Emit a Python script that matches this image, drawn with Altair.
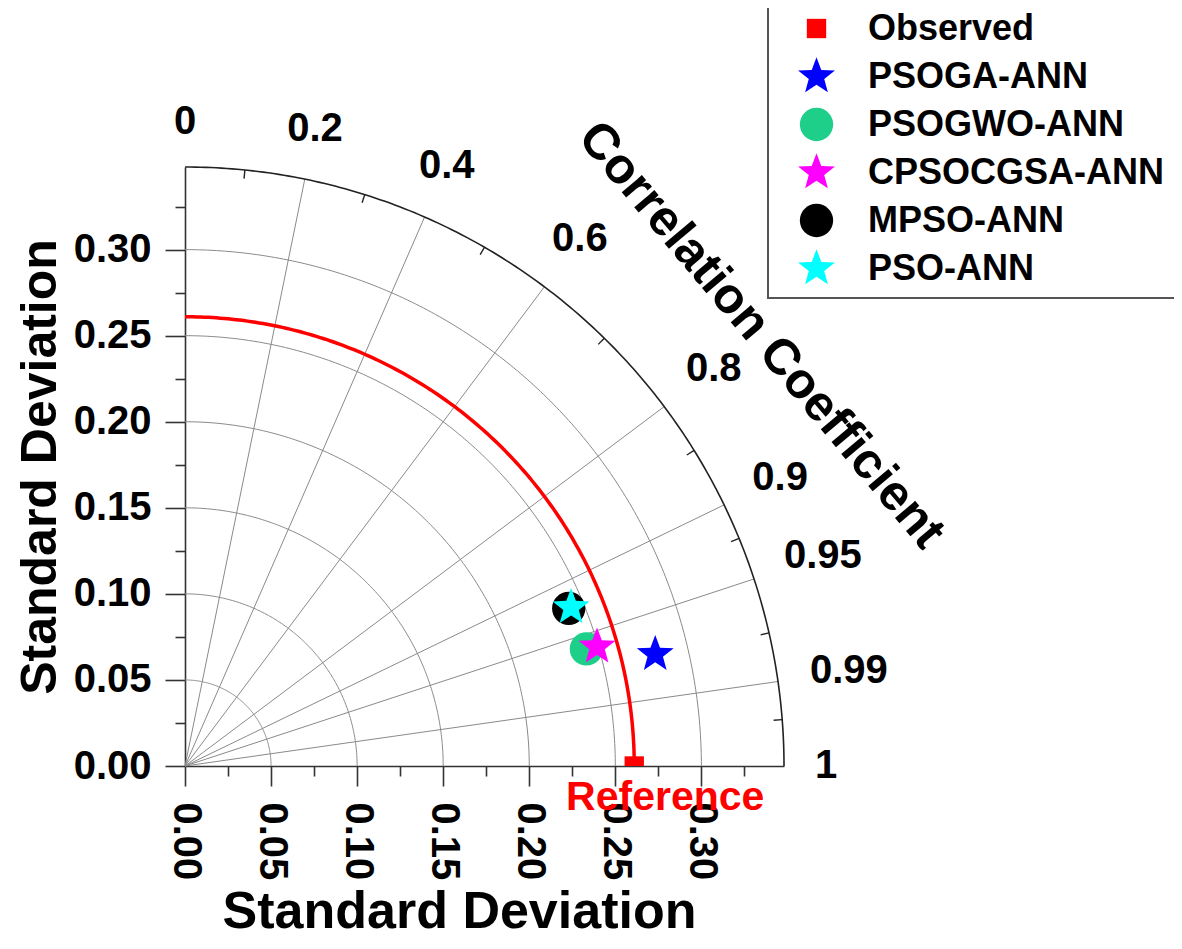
import math
import altair as alt
import numpy as np
import pandas as pd

# ---------------- data ----------------
models = ["Observed", "PSOGA-ANN", "PSOGWO-ANN", "CPSOCGSA-ANN", "MPSO-ANN", "PSO-ANN"]
std_dev = [0.261, 0.2808, 0.2429, 0.2492, 0.2410, 0.2425]
corr = [1.0, 0.9729, 0.960, 0.9606, 0.925, 0.925]
colors = ["#FF0000", "#0000FF", "#1DCF88", "#FF00FF", "#000000", "#00FFFF"]

std_grid = [0.05, 0.10, 0.15, 0.20, 0.25, 0.30]
axis_ticks = [0.0, 0.025, 0.05, 0.075, 0.10, 0.125, 0.15, 0.175, 0.20, 0.225,
              0.25, 0.275, 0.30, 0.325]
corr_grid = [0.2, 0.4, 0.6, 0.8, 0.9, 0.95, 0.99]
corr_minor = [0.1, 0.3, 0.5, 0.7, 0.85, 0.925, 0.975, 0.997]
corr_tick_labels = ["0", "0.2", "0.4", "0.6", "0.8", "0.9", "0.95", "0.99", "1"]
corr_tick_values = [0.0, 0.2, 0.4, 0.6, 0.8, 0.9, 0.95, 0.99, 1.0]

R_MAX = 0.348
REF_STD = std_dev[0]
PLOT_PX = 599
PXU = PLOT_PX / R_MAX          # pixels per unit
LABEL_R0 = 0.366               # inner edge of correlation labels
LABEL_FS = 40
TICK_LEN = 0.005
FONT = "Liberation Sans"


def polar(r, c):
    return r * c, r * math.sqrt(max(0.0, 1.0 - c * c))


# ---------------- shapes ----------------
def star_path(ratio=0.42):
    p = []
    for k in range(10):
        rr = 1.0 if k % 2 == 0 else ratio
        a = math.radians(36 * k)
        p.append(f"{rr * math.sin(a):.4f},{-rr * math.cos(a):.4f}")
    return "M" + " L".join(p) + " Z"


STAR = star_path()
CIRCLE = "M0.86,0 A0.86,0.86 0 1,1 -0.86,0 A0.86,0.86 0 1,1 0.86,0 Z"
SQUARE = "M-0.5,-0.5 L0.5,-0.5 L0.5,0.5 L-0.5,0.5 Z"
shapes = [SQUARE, STAR, CIRCLE, STAR, CIRCLE, STAR]

# ---------------- tables ----------------
pts = pd.DataFrame({"model": models, "std": std_dev, "corr": corr})
pts["x"] = [polar(s, c)[0] for s, c in zip(std_dev, corr)]
pts["y"] = [polar(s, c)[1] for s, c in zip(std_dev, corr)]

theta = np.linspace(0, np.pi / 2, 181)


def arc_df(radii):
    rows = []
    for r in radii:
        for i, t in enumerate(theta):
            rows.append({"r": r, "i": i, "x": r * np.cos(t), "y": r * np.sin(t)})
    return pd.DataFrame(rows)


grid_arcs = arc_df(std_grid)
outer_arc = arc_df([R_MAX])
ref_arc = arc_df([REF_STD])

radial = pd.DataFrame({
    "x": [0.0] * len(corr_grid), "y": [0.0] * len(corr_grid),
    "x2": [polar(R_MAX, c)[0] for c in corr_grid],
    "y2": [polar(R_MAX, c)[1] for c in corr_grid],
})
minor = pd.DataFrame({
    "x": [polar(R_MAX - TICK_LEN, c)[0] for c in corr_minor],
    "y": [polar(R_MAX - TICK_LEN, c)[1] for c in corr_minor],
    "x2": [polar(R_MAX, c)[0] for c in corr_minor],
    "y2": [polar(R_MAX, c)[1] for c in corr_minor],
})


def label_radius(lbl, c):
    # push each label out so that its nearest edge sits on LABEL_R0
    w = LABEL_FS * (0.556 * sum(ch.isdigit() for ch in lbl) + 0.278 * lbl.count("."))
    h = 0.72 * LABEL_FS
    s = math.sqrt(max(0.0, 1 - c * c))
    ext = (w / 2) * abs(c) + (h / 2) * s
    return LABEL_R0 + ext / PXU


clabels = pd.DataFrame({
    "label": corr_tick_labels,
    "x": [polar(label_radius(l, c), c)[0] for l, c in zip(corr_tick_labels, corr_tick_values)],
    "y": [polar(label_radius(l, c), c)[1] for l, c in zip(corr_tick_labels, corr_tick_values)],
})
ctitle = pd.DataFrame({"label": ["Correlation Coefficient"],
                       "x": [polar(0.418, 0.801)[0]], "y": [polar(0.418, 0.801)[1]]})
reflab = pd.DataFrame({"label": ["Reference"], "x": [REF_STD], "y": [0.0]})

# ---------------- encodings ----------------
MAJOR = "round(datum.value*1000) % 50 == 0"
LBL = f"({MAJOR}) ? format(datum.value, '.2f') : ''"
TSIZE = {"condition": {"test": MAJOR, "value": 20}, "value": 10}

scale = alt.Scale(domain=[0, R_MAX], nice=False, zero=True)
x_enc = alt.X("x:Q", scale=scale, axis=alt.Axis(
    values=axis_ticks, title="Standard Deviation", labelAngle=90, labelExpr=LBL,
    tickSize=TSIZE, labelPadding=16, titlePadding=7, labelFlush=False,
    labelOverlap=False, titleX=274, titleAlign="center"))
y_enc = alt.Y("y:Q", scale=scale, axis=alt.Axis(
    values=axis_ticks, title="Standard Deviation", labelExpr=LBL,
    tickSize=TSIZE, labelPadding=14, titlePadding=8, titleFontSize=50,
    labelFlush=False, labelOverlap=False))

GRID = "#8a8a8a"

l_grid = alt.Chart(grid_arcs).mark_line(color=GRID, strokeWidth=1).encode(
    x=x_enc, y=y_enc, detail="r:N", order="i:Q")
l_outer = alt.Chart(outer_arc).mark_line(color="#222222", strokeWidth=1.6).encode(
    x=x_enc, y=y_enc, detail="r:N", order="i:Q")
l_radial = alt.Chart(radial).mark_rule(color=GRID, strokeWidth=1).encode(
    x=x_enc, y=y_enc, x2="x2:Q", y2="y2:Q")
l_minor = alt.Chart(minor).mark_rule(color="#222222", strokeWidth=1.4).encode(
    x=x_enc, y=y_enc, x2="x2:Q", y2="y2:Q")
l_ref = alt.Chart(ref_arc).mark_line(color="#FF0000", strokeWidth=3.5).encode(
    x=x_enc, y=y_enc, detail="r:N", order="i:Q")

l_pts = alt.Chart(pts).mark_point(filled=True, opacity=1, strokeWidth=0, size=1500,
                                  clip=True).encode(
    x=x_enc, y=y_enc,
    color=alt.Color("model:N", scale=alt.Scale(domain=models, range=colors),
                    legend=alt.Legend(title=None)),
    shape=alt.Shape("model:N", scale=alt.Scale(domain=models, range=shapes),
                    legend=alt.Legend(title=None)),
)

l_clab = alt.Chart(clabels).mark_text(font=FONT, fontSize=LABEL_FS, fontWeight="bold",
                                      align="center", baseline="middle", color="black").encode(
    x=x_enc, y=y_enc, text="label:N")
l_ctitle = alt.Chart(ctitle).mark_text(font=FONT, fontSize=50, fontWeight="bold",
                                       align="center", baseline="middle", angle=50,
                                       color="black").encode(
    x=x_enc, y=y_enc, text="label:N")
l_reflab = alt.Chart(reflab).mark_text(font=FONT, fontSize=41, fontWeight="bold",
                                       align="center", baseline="middle", color="#FF0000",
                                       dx=31, dy=32).encode(
    x=x_enc, y=y_enc, text="label:N")

chart = alt.layer(
    l_grid, l_radial, l_outer, l_minor, l_ref, l_pts, l_clab, l_ctitle, l_reflab
).properties(
    width=PLOT_PX, height=PLOT_PX,
    autosize=alt.AutoSizeParams(type="none"),
    padding={"left": 177, "top": 159, "right": 390, "bottom": 175},
).configure_axis(
    labelFont=FONT, labelFontSize=40, labelFontWeight="bold", labelColor="black",
    titleFont=FONT, titleFontSize=52, titleFontWeight="bold", titleColor="black",
    domainColor="#333333", domainWidth=1.6, tickColor="#333333", tickWidth=1.6, grid=False,
).configure_view(
    stroke="transparent"
).configure_legend(
    orient="none", legendX=583, legendY=-169, padding=11,
    strokeColor="#555555", strokeWidth=2, fillColor="white",
    symbolSize=1500, symbolStrokeWidth=0, symbolOffset=18,
    labelFont=FONT, labelFontSize=36, labelFontWeight="bold", labelColor="black",
    labelOffset=32, labelLimit=600, rowPadding=10,
)

chart.save("out.html", embed_options={"renderer": "svg", "actions": False})
